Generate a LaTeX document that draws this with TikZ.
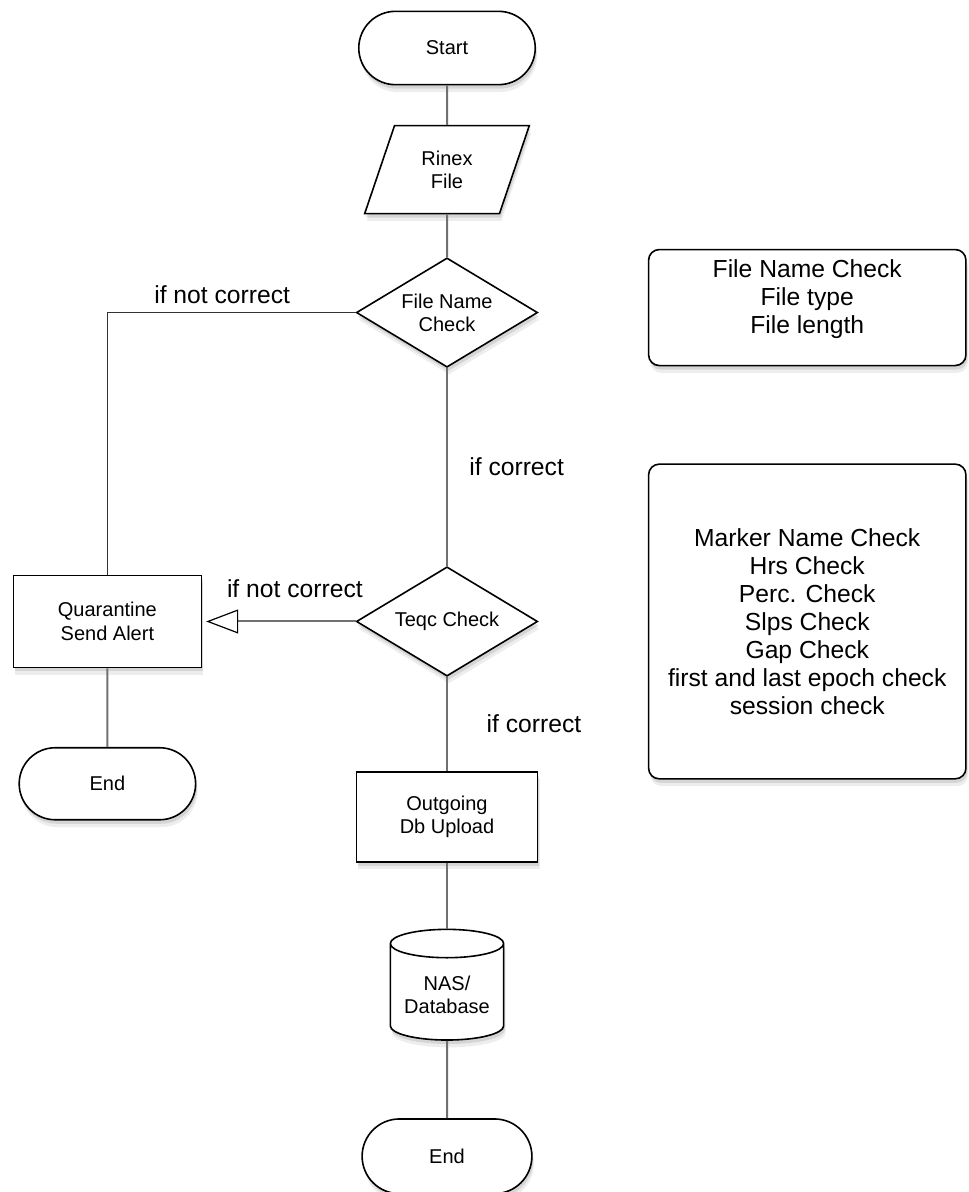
\documentclass[tikz,border=0pt]{standalone}
\usepackage{fontspec}
\setmainfont{Liberation Sans}
\usepackage{tikz}
\usetikzlibrary{positioning}
\usetikzlibrary{shapes,arrows}
\usetikzlibrary{arrows.meta}
\usetikzlibrary{shadows}

\definecolor{linegray}{RGB}{112,112,112}

\begin{document}
\begin{tikzpicture}[
		shd/.style={drop shadow={shadow xshift=1pt,shadow yshift=-3pt,opacity=0.22},
			drop shadow={shadow xshift=1.5pt,shadow yshift=-5.5pt,opacity=0.14}},
		box/.style={draw,line width=1.2pt,fill=white,shd,align=center,font=\fontsize{15}{17.5}\selectfont},
		term/.style={box,rounded rectangle,minimum width=139pt,minimum height=55pt},
		proc/.style={box,rectangle,minimum width=139pt,minimum height=68pt},
		dec/.style={box,diamond,aspect=1.65,inner sep=0pt,minimum width=136pt,minimum height=82pt},
		note/.style={draw,line width=1.2pt,fill=white,shd,rectangle,rounded corners=8pt,align=center,
			minimum width=238pt,font=\fontsize{18.5}{21}\selectfont},
		lbl/.style={inner sep=0pt,font=\fontsize{18.5}{22}\selectfont},
		conn/.style={draw=linegray,line width=1.5pt}
	]
		\useasboundingbox (0,0) rectangle (726pt,-894pt);
		\node[term] at (335.25pt,-36pt) (start) {Start};
		\node [below = 29.5pt of start,box,trapezium,trapezium left angle=70,trapezium right angle=110,
			trapezium stretches=true,minimum width=124pt,minimum height=66pt] (rinex) {Rinex\\File};
		\node [below = 32pt of rinex,dec] (fnc) {File Name\\Check};
		\node [below = 148.5pt of fnc,dec] (teqc) {Teqc Check};
		\node [left = 115pt of teqc,proc,minimum width=141pt,minimum height=69pt] (quar) {Quarantine\\Send Alert};
		\node [below = 59pt of quar,term,minimum height=54pt] (end1) {End};
		\node [below = 70.5pt of teqc,proc,minimum width=136pt,minimum height=67.5pt] (upl) {Outgoing\\Db Upload};
		\node [below = 49.5pt of upl,box,cylinder,shape border rotate=90,aspect=0.3,
			minimum width=85pt,minimum height=83pt] (nas) {NAS/\\Database};
		\node [below = 58pt of nas,term,minimum width=134pt,minimum height=56pt] (end2) {End};
		
		\node [right = 82pt of fnc,yshift=3.75pt,note,minimum height=87pt] (box1) {File Name Check\\File type\\File length\\[-4pt]~};
		\node [right = 82pt of teqc,note,minimum height=236pt] (box2) {Marker Name Check\\Hrs Check\\Perc. Check\\Slps Check\\Gap Check\\first and last epoch check\\session check};
		
		\draw [conn] (start) -- (rinex);
		\draw [conn] (rinex) -- (fnc);
		\draw [conn,draw=black!80,line width=1.2pt] (fnc.west) -| node[pos=0.25,above=6pt,lbl,xshift=-7pt] {if not correct} (quar.north);
		\draw [conn] (fnc) -- node[midway,right=16pt,lbl] {if correct} (teqc);
		\draw [conn,-{Triangle[open,length=24pt,width=18pt,line width=0.9pt,black]},shorten >=3pt] (teqc.west) -- node[midway,above=17pt,lbl,xshift=12pt] {if not correct} (quar.east);
		\draw [conn] (quar) -- (end1);
		\draw [conn] (teqc) -- node[midway,right=29pt,lbl] {if correct} (upl);
		\draw [conn] (upl) -- (nas);
		\draw [conn] (nas) -- (end2);
	\end{tikzpicture}
\end{document}
